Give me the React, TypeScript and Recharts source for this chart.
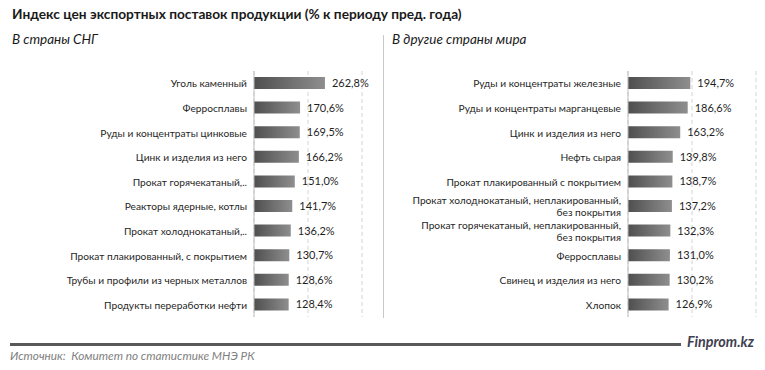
import React from 'react'
import { BarChart, Bar, XAxis, YAxis, CartesianGrid, LabelList } from 'recharts'

const cisNames = [
  'Уголь каменный',
  'Ферросплавы',
  'Руды и концентраты цинковые',
  'Цинк и изделия из него',
  'Прокат горячекатаный,..',
  'Реакторы ядерные, котлы',
  'Прокат холоднокатаный,..',
  'Прокат плакированный, с покрытием',
  'Трубы и профили из черных металлов',
  'Продукты переработки нефти',
]
const cisValues = [262.8, 170.6, 169.5, 166.2, 151.0, 141.7, 136.2, 130.7, 128.6, 128.4]

const otherNames = [
  'Руды и концентраты железные',
  'Руды и концентраты марганцевые',
  'Цинк и изделия из него',
  'Нефть сырая',
  'Прокат плакированный с покрытием',
  'Прокат холоднокатаный, неплакированный,\nбез покрытия',
  'Прокат горячекатаный, неплакированный,\nбез покрытия',
  'Ферросплавы',
  'Свинец и изделия из него',
  'Хлопок',
]
const otherValues = [194.7, 186.6, 163.2, 139.8, 138.7, 137.2, 132.3, 131.0, 130.2, 126.9]

const xTicks = [0, 200, 400]

const FONT = 'Lato, "Open Sans", sans-serif'

const fmt = (v: number) => v.toFixed(1).replace('.', ',') + '%'

function Tick({ x, y, payload }: any) {
  const lines = String(payload.value).split('\n')
  const lh = 12
  const y0 = y - ((lines.length - 1) * lh) / 2
  return (
    <text x={x} y={y0} textAnchor="end" fontSize={10.2} fill="#1f1f1f" fontFamily={FONT} dominantBaseline="central">
      {lines.map((l, i) => (
        <tspan key={i} x={x} y={y0 + i * lh}>{l}</tspan>
      ))}
    </text>
  )
}

function Panel({ names, values, width, axisWidth, right, id }: any) {
  const rows = names.map((n: string, i: number) => ({ name: n, value: values[i] }))
  return (
    <BarChart width={width} height={370} data={rows} layout="vertical" margin={{ top: 71, bottom: 53, left: 0, right }} barSize={12}>
      <defs>
        <linearGradient id={id} x1="0" y1="0" x2="1" y2="0">
          <stop offset="0%" stopColor="#4f4f4f" />
          <stop offset="100%" stopColor="#8e8e8e" />
        </linearGradient>
      </defs>
      <CartesianGrid horizontal={false} stroke="#d4d4d4" strokeDasharray="4 3" />
      <XAxis type="number" domain={[0, 400]} ticks={xTicks} hide />
      <YAxis type="category" dataKey="name" width={axisWidth} tickLine={false} tickSize={0} tickMargin={7}
        axisLine={{ stroke: '#bdbdbd' }} tick={<Tick />} interval={0} />
      <Bar dataKey="value" fill={`url(#${id})`} isAnimationActive={false}>
        <LabelList dataKey="value" position="right" offset={7} formatter={(v: any) => fmt(Number(v))}
          style={{ fontSize: 11, fill: '#1f1f1f', fontFamily: FONT }} />
      </Bar>
    </BarChart>
  )
}

export default function App() {
  return (
    <div style={{ position: 'absolute', left: 0, top: 0, width: 765, height: 370, background: '#fff', fontFamily: FONT, overflow: 'hidden' }}>
      <div style={{ position: 'absolute', left: 12, top: 5, fontSize: 13.7, fontWeight: 700, color: '#1a1a1a', whiteSpace: 'nowrap' }}>
        Индекс цен экспортных поставок продукции (% к периоду пред. года)
      </div>
      <div style={{ position: 'absolute', left: 12, top: 31, fontSize: 13.5, fontStyle: 'italic', color: '#1a1a1a' }}>В страны СНГ</div>
      <div style={{ position: 'absolute', left: 392, top: 31, fontSize: 13.5, fontStyle: 'italic', color: '#1a1a1a' }}>В другие страны мира</div>
      <div style={{ position: 'absolute', left: 383, top: 35, width: 1, height: 283, background: '#c8c8c8' }} />
      <div style={{ position: 'absolute', left: 0, top: 0 }}>
        <Panel names={cisNames} values={cisValues} width={384} axisWidth={254} right={22} id="gl" />
      </div>
      <div style={{ position: 'absolute', left: 384, top: 0 }}>
        <Panel names={otherNames} values={otherValues} width={381} axisWidth={244} right={9} id="gr" />
      </div>
      <div style={{ position: 'absolute', left: 10, top: 343, width: 671, height: 3, background: '#595959' }} />
      <div style={{ position: 'absolute', left: 687, top: 333, fontSize: 14.3, fontWeight: 700, fontStyle: 'italic', color: '#3f4050' }}>Finprom.kz</div>
      <div style={{ position: 'absolute', left: 10, top: 348, fontSize: 11.8, fontStyle: 'italic', color: '#7f7f7f' }}>
        Источник:&nbsp; Комитет по статистике МНЭ РК
      </div>
    </div>
  )
}
